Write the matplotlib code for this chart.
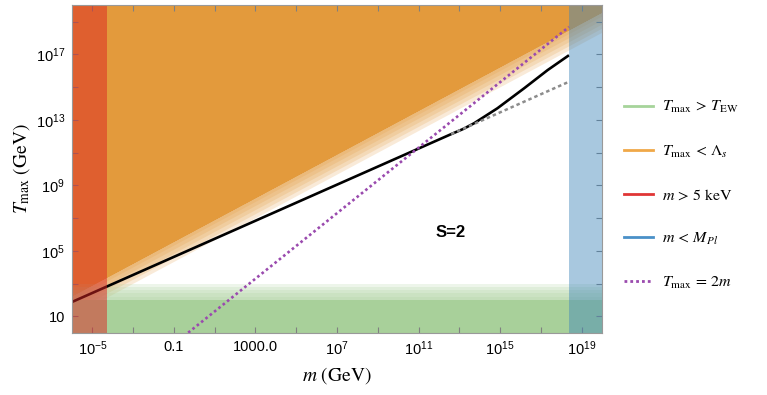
import matplotlib.pyplot as plt
from matplotlib.lines import Line2D
import numpy as np

plt.rcParams['font.family'] = ['Liberation Sans', 'DejaVu Sans']
plt.rcParams['mathtext.fontset'] = 'stix'
plt.rcParams['mathtext.rm'] = 'Liberation Sans'
plt.rcParams['mathtext.it'] = 'Liberation Sans:italic'
plt.rcParams['mathtext.bf'] = 'Liberation Sans:bold'

# ranges of the plot
m_range = [1e-6, 1e20]
T_range = [1.0, 1e20]

# excluded bands
m_min = 5e-5          # m > 5 keV edge as drawn
m_pl = 2.4e18         # reduced Planck mass
T_ew = 1e2            # solid green top
T_ew_fade = 1e3       # green fade top

# strong coupling scale Lambda_s (straight line in log-log)
lam_m = [1e-6, 1e20]
lam_T = [10**2.13, 10**19.46]

black_m = 10.0**np.array([-6.05, 12.6, 13.2, 13.72, 14.87, 16.18, 17.33, 18.38])
black_T = 10.0**np.array([1.85, 12.13, 12.45, 12.79, 13.71, 14.93, 16.04, 16.95])

# continuation of the straight part
gray_m = 10.0**np.array([12.6, 18.38])
gray_T = 10.0**np.array([12.13, 15.33])

# T_max = 2m
line2m_m = [0.5, 2.4e18]
line2m_T = [1.0, 4.8e18]

xtick_pos = [1e-5, 1e-1, 1e3, 1e7, 1e11, 1e15, 1e19]
xtick_lab = [r'$10^{-5}$', '0.1', '1000.0', r'$10^{7}$', r'$10^{11}$', r'$10^{15}$', r'$10^{19}$']
ytick_pos = [1e1, 1e5, 1e9, 1e13, 1e17]
ytick_lab = ['10', r'$10^{5}$', r'$10^{9}$', r'$10^{13}$', r'$10^{17}$']

orange = '#E39A3C'
green = '#A8D09A'
red = '#DD2624'
blue = '#3E85BA'
purple = '#9A4AAE'

fig = plt.figure(figsize=(7.67, 3.95), dpi=100)
ax = fig.add_axes([72/767, 1-332.7/395, 530/767, 327.4/395])
ax.set_xscale('log')
ax.set_yscale('log')
ax.set_xlim(m_range)
ax.set_ylim(T_range)

# orange region with soft lower edge
lam_T = np.array(lam_T)
ax.fill_between(lam_m, lam_T*10**0.1, 1e20, color=orange, lw=0, zorder=1)
for d in [-1.1, -0.85, -0.6, -0.35, -0.1]:
    ax.fill_between(lam_m, lam_T*10**d, lam_T*10**0.1, color=orange, alpha=0.2, lw=0, zorder=1)

# green region with soft upper edge
ax.fill_between(m_range, 1.0, T_ew, color=green, lw=0, zorder=1.5)
for lv in [2.2, 2.4, 2.6, 2.8, 3.0]:
    ax.fill_between(m_range, T_ew, 10**lv, color=green, alpha=0.2, lw=0, zorder=1.5)

# curves
ax.plot(black_m, black_T, color='black', lw=1.9, zorder=3, solid_capstyle='butt')
ax.plot(gray_m, gray_T, color='#8c8c8c', lw=1.8, ls=(0, (1.4, 1.2)), zorder=3)
ax.plot(line2m_m, line2m_T, color=purple, lw=1.9, ls=(0, (1, 1.1)), zorder=3)

# vertical bands on top
ax.axvspan(m_range[0], m_min, color=red, alpha=0.5, lw=0, zorder=4)
ax.axvspan(m_pl, m_range[1], color=blue, alpha=0.45, lw=0, zorder=4)

ax.text(10**12.57, 10**6.1, 'S=2', fontsize=12, fontweight='bold', ha='center', va='center', zorder=5)

# ticks
ax.set_xticks(xtick_pos)
ax.set_xticklabels(xtick_lab, math_fontfamily='custom')
ax.set_xticks([10.0**k for k in range(-3, 20, 4)], minor=True)
ax.set_yticks(ytick_pos)
ax.set_yticklabels(ytick_lab, math_fontfamily='custom')
ax.set_yticks([10.0**k for k in range(3, 20, 4)], minor=True)
ax.tick_params(which='both', direction='in', top=True, right=True, color='#808080',
               labelsize=10.5, pad=5)
ax.tick_params(which='major', length=4, width=0.8)
ax.tick_params(which='minor', length=4, width=0.8)
ax.xaxis.set_minor_formatter(plt.NullFormatter())
ax.yaxis.set_minor_formatter(plt.NullFormatter())
for s in ax.spines.values():
    s.set_color('#999999')
    s.set_linewidth(0.8)
    s.set_zorder(6)

ax.set_xlabel(r'$m\ (\mathrm{GeV})$', fontsize=14, labelpad=5, math_fontfamily='stix')
ax.set_ylabel(r'$T_{\mathrm{max}}\ (\mathrm{GeV})$', fontsize=14, labelpad=3, math_fontfamily='stix')

# legend
handles = [
    Line2D([], [], color='#A6D49A', lw=2),
    Line2D([], [], color='#F0A848', lw=2),
    Line2D([], [], color='#E03535', lw=2),
    Line2D([], [], color='#4A90C8', lw=2),
    Line2D([], [], color=purple, lw=2, ls=(0, (1, 1.1))),
]
labels = [r'$T_{\mathrm{max}}\, >\, T_{\mathrm{EW}}$', r'$T_{\mathrm{max}}\, <\, \Lambda_s$',
          r'$m\, >\, 5\ \mathrm{keV}$', r'$m\, <\, M_{Pl}$', r'$T_{\mathrm{max}}\, =\, 2m$']
leg = fig.legend(handles, labels, loc='center left', bbox_to_anchor=(624/767, 1-195/395),
                 frameon=False, fontsize=11.5, handlelength=1.8, handletextpad=0.55,
                 labelspacing=1.75, borderpad=0, borderaxespad=0)
for t in leg.get_texts():
    t.set_math_fontfamily('stix')

fig.savefig('out.png', dpi=100)
